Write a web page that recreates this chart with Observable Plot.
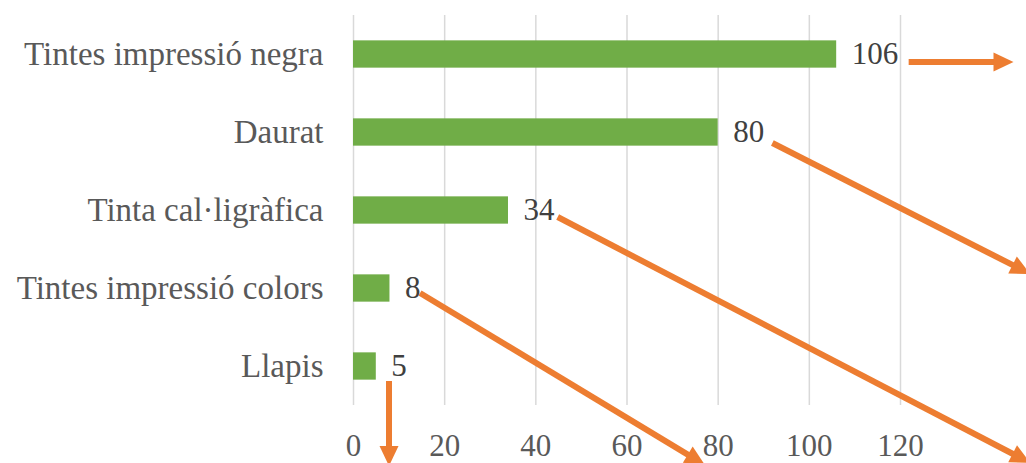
<!DOCTYPE html>
<html>
<head>
<meta charset="utf-8">
<script src="https://cdn.jsdelivr.net/npm/d3@7"></script>
<script src="https://cdn.jsdelivr.net/npm/@observablehq/plot@0.6"></script>
<style>
  html, body { margin: 0; padding: 0; background: #ffffff; }
  #chart svg { display: block; }
  #chart svg text, #chart svg g { font-family: "Liberation Serif", "DejaVu Serif", "Times New Roman", serif !important; }
</style>
</head>
<body>
<div id="chart"></div>
<script>
// Categories (top to bottom) and values
const categories = ["Tintes impressió negra", "Daurat", "Tinta cal·ligràfica", "Tintes impressió colors", "Llapis"];
const values = [106, 80, 34, 8, 5];
const xTicks = [0, 20, 40, 60, 80, 100, 120];

// Orange annotation arrows: start and tip, in chart units
// (x in value units, y in category-row units counted from the top)
const arrowX1 = [121.9, 92.0, 44.9, 14.7, 7.9];
const arrowY1 = [0.603, 1.641, 2.590, 3.564, 4.692];
const arrowX2 = [144.9, 148.6, 148.6, 77.2, 7.9];
const arrowY2 = [0.603, 3.321, 5.744, 5.769, 5.782];

const rows = categories.map((name, i) => ({name, value: values[i], i}));
const arrows = arrowX1.map((_, i) => ({x1: arrowX1[i], y1: arrowY1[i], x2: arrowX2[i], y2: arrowY2[i]}));

const green = "#70AD47";
const orange = "#ED7D31";
const font = "Liberation Serif";
const half = 0.175;

function arrowMark(index, scales) {
  const x = scales.x, y = scales.y;
  const g = d3.create("svg:g");
  for (const a of arrows) {
    const px1 = x(a.x1), py1 = y(a.y1), px2 = x(a.x2), py2 = y(a.y2);
    const len = Math.hypot(px2 - px1, py2 - py1);
    const ux = (px2 - px1) / len, uy = (py2 - py1) / len;
    const hl = 20, hw = 9.5;
    const bx = px2 - ux * hl, by = py2 - uy * hl;
    g.append("line")
      .attr("x1", px1).attr("y1", py1)
      .attr("x2", bx + ux * 1).attr("y2", by + uy * 1)
      .attr("stroke", orange).attr("stroke-width", 6);
    g.append("polygon")
      .attr("points", `${px2},${py2} ${bx - uy * hw},${by + ux * hw} ${bx + uy * hw},${by - ux * hw}`)
      .attr("fill", orange);
  }
  return g.node();
}

const chart = Plot.plot({
  width: 1026,
  height: 463,
  marginLeft: 353,
  marginRight: 126,
  marginTop: 15,
  marginBottom: 58,
  style: {fontFamily: font, background: "#ffffff", color: "#595959", overflow: "visible"},
  x: {domain: [0, 120]},
  y: {domain: [0, 5], reverse: true},
  marks: [
    Plot.gridX(xTicks, {stroke: "#D9D9D9", strokeOpacity: 1, strokeWidth: 1.5}),
    Plot.rectX(rows, {
      x1: 0,
      x2: "value",
      y1: d => d.i + 0.5 - half,
      y2: d => d.i + 0.5 + half,
      fill: green
    }),
    Plot.text(rows, {
      x: "value",
      y: d => d.i + 0.5,
      text: d => String(d.value),
      dx: 15,
      textAnchor: "start",
      fontSize: 31,
      fontFamily: font,
      fill: "#404040"
    }),
    Plot.axisX(xTicks, {
      tickSize: 0,
      tickPadding: 28,
      fontSize: 31,
      fontFamily: font,
      label: null
    }),
    Plot.axisY(categories.map((_, i) => i + 0.5), {
      tickSize: 0,
      tickPadding: 30,
      fontSize: 33,
      fontFamily: font,
      tickFormat: d => categories[Math.floor(d)],
      label: null
    }),
    arrowMark
  ]
});

document.getElementById("chart").appendChild(chart);
</script>
</body>
</html>
